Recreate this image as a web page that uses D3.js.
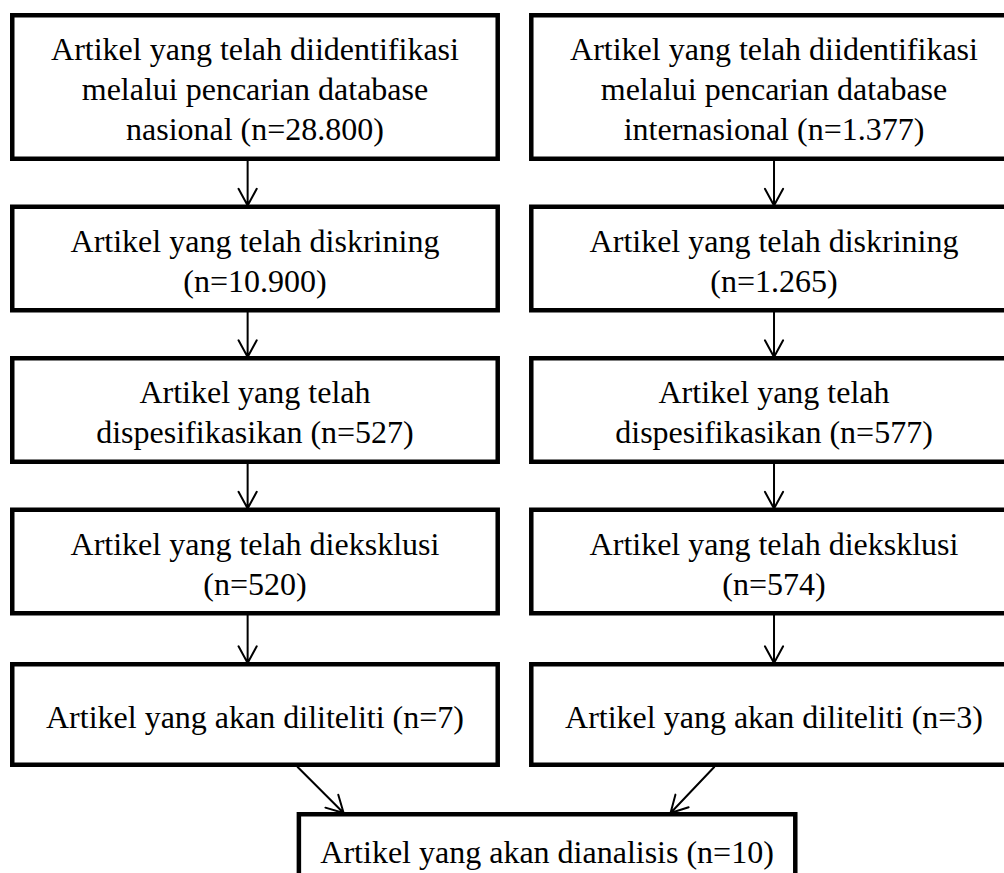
<!DOCTYPE html>
<html lang="id">
<head>
  <meta charset="utf-8">
  <script src="https://cdn.jsdelivr.net/npm/d3@7"></script>
  <style>
    html, body { margin: 0; padding: 0; background: #fff; }
    svg { display: block; }
    .box { fill: #fff; stroke: #000; stroke-width: 4.5; }
    .arrow { fill: none; stroke: #000; stroke-width: 2; stroke-linecap: round; stroke-linejoin: round; }
    text { font-family: "Liberation Serif", "Times New Roman", serif; font-size: 32px; fill: #000; }
  </style>
</head>
<body>
<svg class="chart"></svg>
<script>
  // data
  const sources = ['nasional', 'internasional'];
  const stages = ['identifikasi', 'skrining', 'spesifikasi', 'eksklusi', 'diteliti'];
  const nasional = [28800, 10900, 527, 520, 7];
  const internasional = [1377, 1265, 577, 574, 3];
  const totalDianalisis = 10;

  // text of each stage, {db} = source name, {n} = count
  const stageLines = [
    ['Artikel yang telah diidentifikasi', 'melalui pencarian database', '{db} (n={n})'],
    ['Artikel yang telah diskrining', '(n={n})'],
    ['Artikel yang telah', 'dispesifikasikan (n={n})'],
    ['Artikel yang telah dieksklusi', '(n={n})'],
    ['Artikel yang akan diliteliti (n={n})']
  ];
  const finalLines = ['Artikel yang akan dianalisis (n={n})'];

  const width = 1004;
  const height = 873;
  const lineH = 40;

  const idLocale = d3.formatLocale({ decimal: ',', thousands: '.', grouping: [3], currency: ['Rp', ''] });
  const fmt = idLocale.format(',d');

  const svg = d3.select('.chart')
    .attr('width', width)
    .attr('height', height);

  const xScale = d3.scaleBand()
    .domain(sources)
    .range([10, 1019])
    .paddingInner(0.056);

  // bottom edge of each stage row
  const yScale = d3.scaleLinear()
    .domain([0, stages.length - 1])
    .range([161, 767]);

  const boxHeight = lines => Math.max(105, 28 + lineH * lines);

  const nodes = [];
  sources.forEach((src, si) => {
    const vals = si === 0 ? nasional : internasional;
    stages.forEach((st, i) => {
      const lines = stageLines[i].map(t => t.replace('{db}', src).replace('{n}', fmt(vals[i])));
      const h = boxHeight(lines.length);
      const bottom = yScale(i);
      nodes.push({
        src, stage: st, i, lines,
        x0: xScale(src), x1: xScale(src) + xScale.bandwidth(),
        y0: bottom - h, y1: bottom
      });
    });
  });

  // final box sits between the two columns
  const bw = xScale.bandwidth();
  const fTop = yScale(stages.length - 1) + 45;
  const finalNode = {
    lines: finalLines.map(t => t.replace('{n}', fmt(totalDianalisis))),
    x0: xScale('nasional') + bw * 0.585,
    x1: xScale('internasional') + bw * 0.548,
    y0: fTop, y1: fTop + 76
  };
  const allNodes = nodes.concat([finalNode]);

  // boxes
  svg.selectAll('.box')
    .data(allNodes)
    .join('rect')
    .attr('class', 'box')
    .attr('x', d => d.x0 + 2.25)
    .attr('y', d => d.y0 + 2.25)
    .attr('width', d => d.x1 - d.x0 - 4.5)
    .attr('height', d => d.y1 - d.y0 - 4.5);

  // labels
  const labels = svg.selectAll('.label')
    .data(allNodes)
    .join('text')
    .attr('class', 'label')
    .attr('text-anchor', 'middle');

  labels.each(function (d) {
    const cx = (d.x0 + d.x1) / 2;
    const cy = (d.y0 + d.y1) / 2 + 2;
    const n = d.lines.length;
    d3.select(this).selectAll('tspan')
      .data(d.lines)
      .join('tspan')
      .attr('x', cx)
      .attr('y', (t, k) => cy + (k - (n - 1) / 2) * lineH)
      .attr('dy', '0.35em')
      .text(t => t);
  });

  // arrows
  function arrowPath(x0, y0, x1, y1) {
    const a = Math.atan2(y1 - y0, x1 - x0);
    const len = 19, spread = 0.5;
    const hx1 = x1 - len * Math.cos(a - spread), hy1 = y1 - len * Math.sin(a - spread);
    const hx2 = x1 - len * Math.cos(a + spread), hy2 = y1 - len * Math.sin(a + spread);
    return `M${x0},${y0}L${x1},${y1}M${hx1},${hy1}L${x1},${y1}L${hx2},${hy2}`;
  }

  const links = [];
  sources.forEach(src => {
    const col = nodes.filter(d => d.src === src);
    const ax = src === 'nasional' ? xScale(src) + bw * 0.485 : xScale(src) + bw * 0.5;
    for (let i = 0; i < col.length - 1; i++) {
      links.push([ax, col[i].y1 - 2, ax, col[i + 1].y0 + 1]);
    }
  });
  const lastL = nodes.find(d => d.src === 'nasional' && d.i === stages.length - 1);
  const lastR = nodes.find(d => d.src === 'internasional' && d.i === stages.length - 1);
  links.push([lastL.x0 + bw * 0.587, lastL.y1, finalNode.x0 + 47, finalNode.y0 + 1]);
  links.push([lastR.x0 + bw * 0.378, lastR.y1, finalNode.x1 - 127, finalNode.y0 + 1]);

  svg.selectAll('.arrow')
    .data(links)
    .join('path')
    .attr('class', 'arrow')
    .attr('d', d => arrowPath(...d));
</script>
</body>
</html>
